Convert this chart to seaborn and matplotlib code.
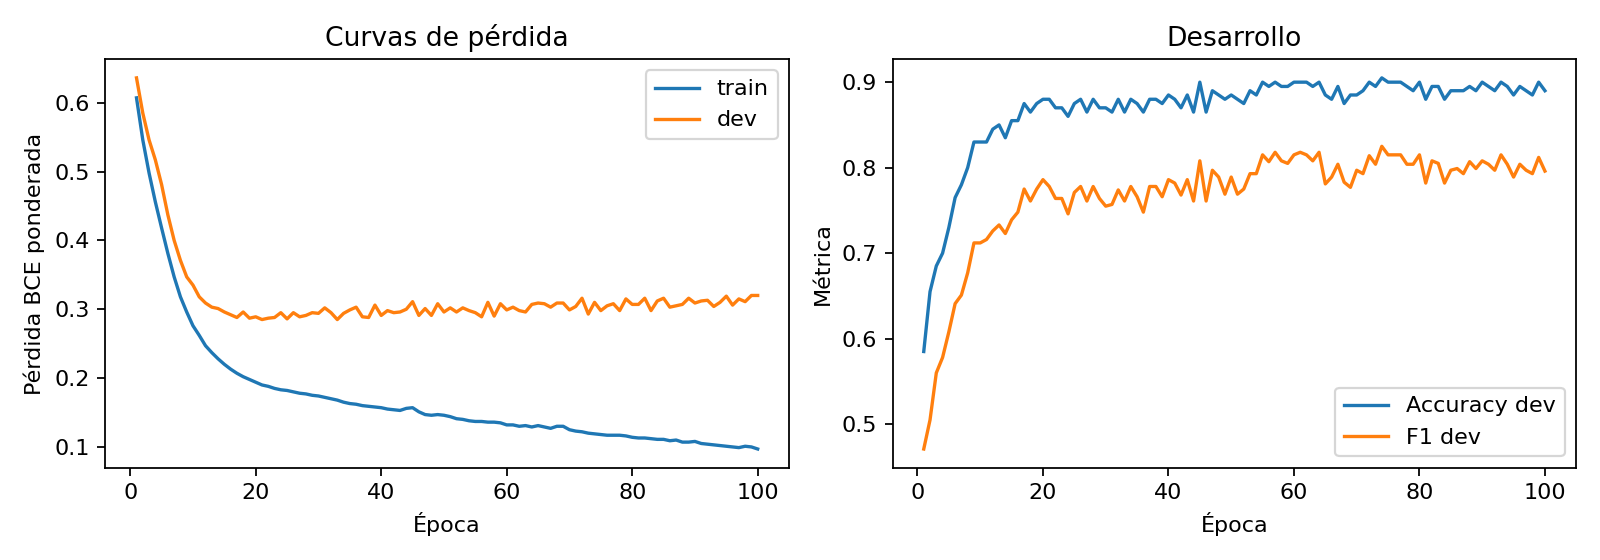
import numpy as np
import pandas as pd
import matplotlib
matplotlib.use("Agg")
import matplotlib.pyplot as plt
import seaborn as sns

# epochs 1..100
epochs = list(range(1, 101))

# loss curves
train_loss = [
    0.607, 0.546, 0.498, 0.456, 0.418, 0.381, 0.347, 0.318, 0.296, 0.276,
    0.262, 0.247, 0.237, 0.228, 0.220, 0.213, 0.207, 0.202, 0.198, 0.194,
    0.190, 0.188, 0.185, 0.183, 0.182, 0.180, 0.178, 0.177, 0.175, 0.174,
    0.172, 0.170, 0.168, 0.165, 0.163, 0.162, 0.160, 0.159, 0.158, 0.157,
    0.155, 0.154, 0.153, 0.156, 0.157, 0.151, 0.147, 0.146, 0.147, 0.146,
    0.144, 0.141, 0.140, 0.138, 0.137, 0.137, 0.136, 0.136, 0.135, 0.132,
    0.132, 0.130, 0.131, 0.129, 0.131, 0.129, 0.127, 0.130, 0.130, 0.125,
    0.123, 0.122, 0.120, 0.119, 0.118, 0.117, 0.117, 0.117, 0.116, 0.114,
    0.113, 0.113, 0.112, 0.111, 0.111, 0.109, 0.110, 0.107, 0.107, 0.108,
    0.105, 0.104, 0.103, 0.102, 0.101, 0.100, 0.099, 0.101, 0.100, 0.097,
]
dev_loss = [
    0.636, 0.585, 0.546, 0.517, 0.481, 0.437, 0.400, 0.371, 0.347, 0.335,
    0.318, 0.309, 0.303, 0.301, 0.296, 0.292, 0.288, 0.296, 0.287, 0.289,
    0.285, 0.287, 0.288, 0.295, 0.286, 0.295, 0.289, 0.291, 0.295, 0.294,
    0.302, 0.295, 0.285, 0.294, 0.299, 0.303, 0.289, 0.288, 0.306, 0.291,
    0.298, 0.295, 0.296, 0.300, 0.311, 0.291, 0.301, 0.291, 0.308, 0.296,
    0.302, 0.296, 0.302, 0.298, 0.295, 0.289, 0.310, 0.290, 0.308, 0.299,
    0.303, 0.298, 0.296, 0.307, 0.309, 0.308, 0.303, 0.309, 0.309, 0.299,
    0.304, 0.316, 0.293, 0.310, 0.298, 0.305, 0.308, 0.298, 0.315, 0.307,
    0.307, 0.316, 0.298, 0.312, 0.316, 0.303, 0.305, 0.307, 0.316, 0.309,
    0.312, 0.313, 0.304, 0.310, 0.319, 0.306, 0.315, 0.311, 0.320, 0.320,
]

# dev metrics
acc_dev = [
    0.585, 0.655, 0.685, 0.700, 0.730, 0.765, 0.780, 0.800, 0.830, 0.830,
    0.830, 0.845, 0.850, 0.835, 0.855, 0.855, 0.875, 0.865, 0.875, 0.880,
    0.880, 0.870, 0.870, 0.860, 0.875, 0.880, 0.865, 0.880, 0.870, 0.870,
    0.865, 0.880, 0.865, 0.880, 0.875, 0.865, 0.880, 0.880, 0.875, 0.885,
    0.880, 0.870, 0.885, 0.865, 0.900, 0.865, 0.890, 0.885, 0.880, 0.885,
    0.880, 0.875, 0.890, 0.885, 0.900, 0.895, 0.900, 0.895, 0.895, 0.900,
    0.900, 0.900, 0.895, 0.900, 0.885, 0.880, 0.895, 0.875, 0.885, 0.885,
    0.890, 0.900, 0.895, 0.905, 0.900, 0.900, 0.900, 0.895, 0.890, 0.900,
    0.880, 0.895, 0.895, 0.880, 0.890, 0.890, 0.890, 0.895, 0.890, 0.900,
    0.895, 0.890, 0.900, 0.895, 0.885, 0.895, 0.890, 0.885, 0.900, 0.890,
]
f1_dev = [
    0.471, 0.505, 0.560, 0.578, 0.608, 0.641, 0.651, 0.677, 0.712, 0.712,
    0.716, 0.726, 0.733, 0.723, 0.739, 0.748, 0.775, 0.761, 0.775, 0.786,
    0.778, 0.764, 0.764, 0.746, 0.771, 0.778, 0.761, 0.778, 0.764, 0.755,
    0.757, 0.774, 0.761, 0.778, 0.766, 0.748, 0.778, 0.778, 0.766, 0.786,
    0.782, 0.768, 0.786, 0.761, 0.808, 0.761, 0.797, 0.789, 0.769, 0.789,
    0.769, 0.775, 0.793, 0.793, 0.815, 0.807, 0.818, 0.808, 0.805, 0.815,
    0.818, 0.815, 0.808, 0.818, 0.781, 0.789, 0.804, 0.783, 0.777, 0.797,
    0.793, 0.814, 0.804, 0.825, 0.815, 0.815, 0.815, 0.804, 0.804, 0.815,
    0.782, 0.808, 0.805, 0.782, 0.797, 0.799, 0.793, 0.807, 0.799, 0.808,
    0.804, 0.797, 0.815, 0.804, 0.789, 0.804, 0.797, 0.793, 0.812, 0.796,
]

df = pd.DataFrame({
    "epoch": epochs,
    "train": train_loss,
    "dev": dev_loss,
    "Accuracy dev": acc_dev,
    "F1 dev": f1_dev,
})

fig, axes = plt.subplots(1, 2, figsize=(10, 3.5), dpi=160)

# left: loss curves
ax = axes[0]
sns.lineplot(data=df, x="epoch", y="train", ax=ax, label="train")
sns.lineplot(data=df, x="epoch", y="dev", ax=ax, label="dev")
ax.set_title("Curvas de pérdida")
ax.set_xlabel("Época")
ax.set_ylabel("Pérdida BCE ponderada")
ax.legend(loc="upper right")

# right: dev metrics
ax = axes[1]
sns.lineplot(data=df, x="epoch", y="Accuracy dev", ax=ax, label="Accuracy dev")
sns.lineplot(data=df, x="epoch", y="F1 dev", ax=ax, label="F1 dev")
ax.set_title("Desarrollo")
ax.set_xlabel("Época")
ax.set_ylabel("Métrica")
ax.legend(loc="lower right")

plt.tight_layout()
plt.savefig("out.png", dpi=160)
